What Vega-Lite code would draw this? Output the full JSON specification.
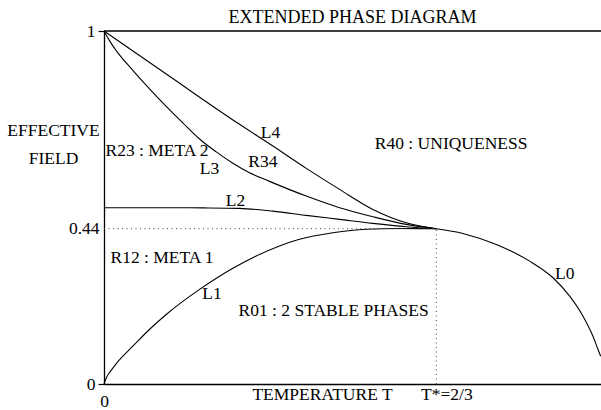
{
  "$schema": "https://vega.github.io/schema/vega-lite/v6.json",
  "width": 497,
  "height": 353,
  "autosize": {"type": "none"},
  "padding": {"left": 104, "top": 31, "right": 0, "bottom": 26},
  "background": "white",
  "config": {"view": {"stroke": null}, "font": "Liberation Serif"},
  "title": {
    "text": "EXTENDED PHASE DIAGRAM",
    "font": "Liberation Serif",
    "fontSize": 18,
    "fontWeight": "normal",
    "color": "black",
    "anchor": "middle",
    "baseline": "alphabetic",
    "offset": -18.5
  },
  "datasets": {
    "curves": [
      {"curve": "L4", "t": 0, "h": 1},
      {"curve": "L4", "t": 0.1314, "h": 0.8716},
      {"curve": "L4", "t": 0.2719, "h": 0.7356},
      {"curve": "L4", "t": 0.3388, "h": 0.674},
      {"curve": "L4", "t": 0.4058, "h": 0.6108},
      {"curve": "L4", "t": 0.4726, "h": 0.5513},
      {"curve": "L4", "t": 0.5394, "h": 0.4946},
      {"curve": "L4", "t": 0.6065, "h": 0.4569},
      {"curve": "L4", "t": 0.66667, "h": 0.44},
      {"curve": "L3", "t": 0, "h": 1},
      {"curve": "L3", "t": 0.011, "h": 0.9728},
      {"curve": "L3", "t": 0.0245, "h": 0.9444},
      {"curve": "L3", "t": 0.0578, "h": 0.8886},
      {"curve": "L3", "t": 0.0913, "h": 0.8362},
      {"curve": "L3", "t": 0.1248, "h": 0.7866},
      {"curve": "L3", "t": 0.1581, "h": 0.7398},
      {"curve": "L3", "t": 0.1917, "h": 0.694},
      {"curve": "L3", "t": 0.2252, "h": 0.6575},
      {"curve": "L3", "t": 0.2585, "h": 0.6255},
      {"curve": "L3", "t": 0.292, "h": 0.5985},
      {"curve": "L3", "t": 0.3321, "h": 0.574},
      {"curve": "L3", "t": 0.4058, "h": 0.5323},
      {"curve": "L3", "t": 0.4726, "h": 0.4994},
      {"curve": "L3", "t": 0.5394, "h": 0.4739},
      {"curve": "L3", "t": 0.6065, "h": 0.4521},
      {"curve": "L3", "t": 0.66667, "h": 0.44},
      {"curve": "L2", "t": 0, "h": 0.4994},
      {"curve": "L2", "t": 0.1, "h": 0.4994},
      {"curve": "L2", "t": 0.2, "h": 0.4988},
      {"curve": "L2", "t": 0.2719, "h": 0.4974},
      {"curve": "L2", "t": 0.3388, "h": 0.4898},
      {"curve": "L2", "t": 0.4058, "h": 0.4776},
      {"curve": "L2", "t": 0.4726, "h": 0.4663},
      {"curve": "L2", "t": 0.5394, "h": 0.455},
      {"curve": "L2", "t": 0.6065, "h": 0.4456},
      {"curve": "L2", "t": 0.66667, "h": 0.44},
      {"curve": "L1", "t": 0, "h": 0},
      {"curve": "L1", "t": 0.005, "h": 0.0184},
      {"curve": "L1", "t": 0.01, "h": 0.0303},
      {"curve": "L1", "t": 0.0177, "h": 0.045},
      {"curve": "L1", "t": 0.03, "h": 0.0667},
      {"curve": "L1", "t": 0.0578, "h": 0.107},
      {"curve": "L1", "t": 0.09, "h": 0.153},
      {"curve": "L1", "t": 0.1248, "h": 0.197},
      {"curve": "L1", "t": 0.1917, "h": 0.268},
      {"curve": "L1", "t": 0.2585, "h": 0.328},
      {"curve": "L1", "t": 0.352, "h": 0.391},
      {"curve": "L1", "t": 0.392, "h": 0.41},
      {"curve": "L1", "t": 0.459, "h": 0.4286},
      {"curve": "L1", "t": 0.526, "h": 0.4385},
      {"curve": "L1", "t": 0.593, "h": 0.4405},
      {"curve": "L1", "t": 0.66667, "h": 0.44},
      {"curve": "L0", "t": 0.66667, "h": 0.44},
      {"curve": "L0", "t": 0.72, "h": 0.4266},
      {"curve": "L0", "t": 0.787, "h": 0.395},
      {"curve": "L0", "t": 0.8539, "h": 0.348},
      {"curve": "L0", "t": 0.9007, "h": 0.301},
      {"curve": "L0", "t": 0.9342, "h": 0.2489},
      {"curve": "L0", "t": 0.9609, "h": 0.1922},
      {"curve": "L0", "t": 0.9809, "h": 0.1355},
      {"curve": "L0", "t": 0.991, "h": 0.0978},
      {"curve": "L0", "t": 0.9964, "h": 0.0788}
    ],
    "dotted": [
      {"t": 0, "h": 0.44, "t2": 0.66667, "h2": 0.44},
      {"t": 0.66667, "h": 0, "t2": 0.66667, "h2": 0.44}
    ],
    "border": [
      {"t": 0, "h": 1, "t2": 0.997, "h2": 1}
    ],
    "labels": [
      {"label": "L4", "t": 0.3341, "h": 0.6978},
      {"label": "R34", "t": 0.3187, "h": 0.6137},
      {"label": "L3", "t": 0.2117, "h": 0.5938},
      {"label": "R23 : META 2", "t": 0.1064, "h": 0.6448},
      {"label": "R40 : UNIQUENESS", "t": 0.6964, "h": 0.6647},
      {"label": "L2", "t": 0.2639, "h": 0.504},
      {"label": "R12 : META 1", "t": 0.1164, "h": 0.3435},
      {"label": "L1", "t": 0.2167, "h": 0.2395},
      {"label": "R01 : 2 STABLE PHASES", "t": 0.4606, "h": 0.1922},
      {"label": "L0", "t": 0.9241, "h": 0.2976}
    ]
  },
  "encoding": {
    "x": {
      "field": "t",
      "type": "quantitative",
      "scale": {"domain": [0, 0.997], "nice": false, "zero": false},
      "axis": {
        "values": [0, 0.66667],
        "labelExpr": "datum.value == 0 ? '0' : 'T*=2/3'",
        "grid": false,
        "ticks": false,
        "domain": true,
        "domainColor": "black",
        "domainWidth": 1.3,
        "labelFont": "Liberation Serif",
        "labelFontSize": 17.5,
        "labelColor": "black",
        "labelFlush": false,
        "labelOverlap": false,
        "labelPadding": {"condition": {"test": "datum.value == 0", "value": 8}, "value": 1},
        "labelOffset": {"condition": {"test": "datum.value == 0", "value": 0}, "value": 10},
        "title": "TEMPERATURE T",
        "titleFont": "Liberation Serif",
        "titleFontSize": 17.5,
        "titleFontWeight": "normal",
        "titleColor": "black",
        "titleAlign": "center",
        "titleBaseline": "alphabetic",
        "titleX": 218,
        "titleY": 15
      }
    },
    "y": {
      "field": "h",
      "type": "quantitative",
      "scale": {"domain": [0, 1], "nice": false, "zero": false},
      "axis": {
        "values": [0, 0.44, 1],
        "labelExpr": "datum.value == 0 ? '0' : datum.value == 1 ? '1' : '0.44'",
        "grid": false,
        "ticks": true,
        "tickSize": 6,
        "tickColor": "black",
        "tickWidth": 1.2,
        "tickOpacity": {"condition": {"test": "datum.value == 0.44", "value": 0}, "value": 1},
        "domain": true,
        "domainColor": "black",
        "domainWidth": 1.3,
        "labelFont": "Liberation Serif",
        "labelFontSize": 17.5,
        "labelColor": "black",
        "labelFlush": false,
        "labelOverlap": false,
        "labelPadding": {"condition": {"test": "datum.value == 0.44", "value": -1}, "value": 3},
        "title": ["EFFECTIVE", "FIELD"],
        "titleFont": "Liberation Serif",
        "titleFontSize": 17.5,
        "titleFontWeight": "normal",
        "titleColor": "black",
        "titleAngle": 0,
        "titleAlign": "center",
        "titleBaseline": "alphabetic",
        "titleLineHeight": 28.5,
        "titleX": -51,
        "titleY": 104
      }
    }
  },
  "layer": [
    {
      "data": {"name": "curves"},
      "mark": {"type": "line", "interpolate": "monotone", "color": "black", "strokeWidth": 1.1},
      "encoding": {"detail": {"field": "curve", "type": "nominal"}}
    },
    {
      "data": {"name": "dotted"},
      "mark": {"type": "rule", "color": "#444444", "strokeWidth": 1, "strokeDash": [1, 3.5]},
      "encoding": {"x2": {"field": "t2"}, "y2": {"field": "h2"}}
    },
    {
      "data": {"name": "border"},
      "mark": {"type": "rule", "color": "black", "strokeWidth": 1.3},
      "encoding": {"x2": {"field": "t2"}, "y2": {"field": "h2"}}
    },
    {
      "data": {"name": "labels"},
      "mark": {"type": "text", "font": "Liberation Serif", "fontSize": 17.5, "color": "black", "align": "center", "baseline": "alphabetic"},
      "encoding": {"text": {"field": "label", "type": "nominal"}}
    }
  ]
}
